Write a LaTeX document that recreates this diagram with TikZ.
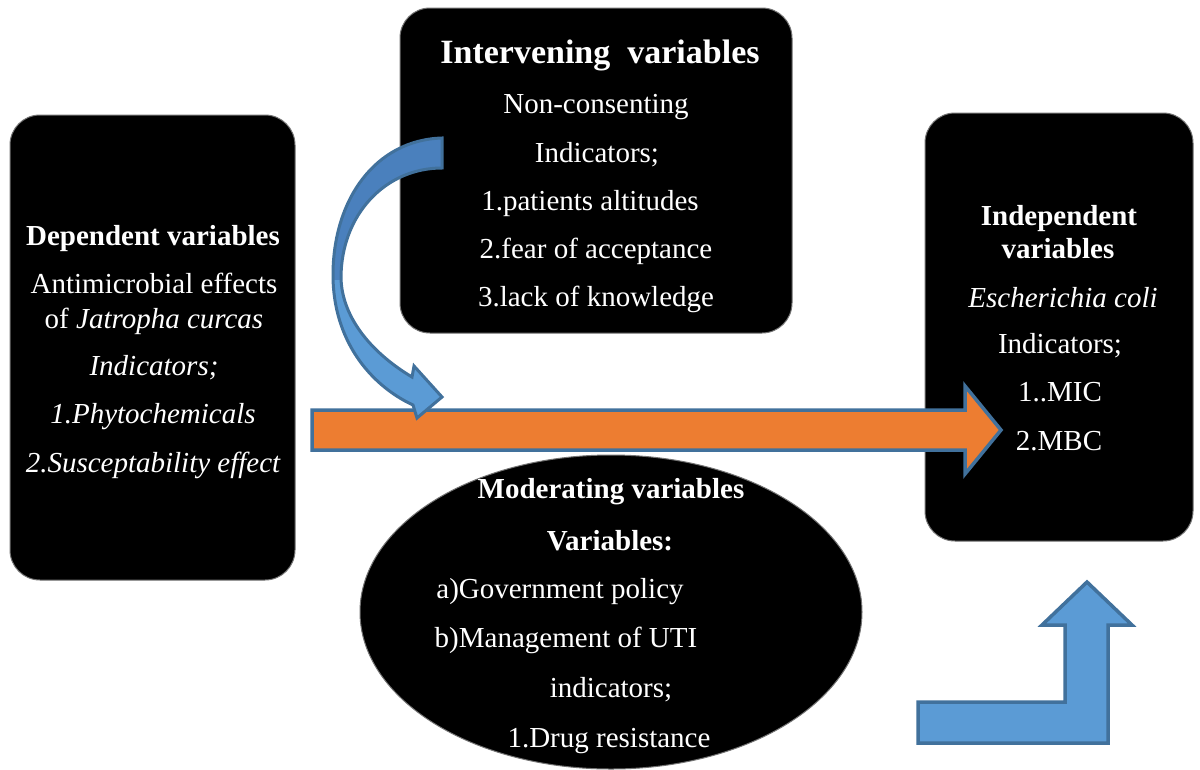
\documentclass[tikz,border=0pt]{standalone}
\usepackage{fontspec}
\setmainfont{Liberation Serif}
\usetikzlibrary{shapes.geometric}
\definecolor{arrowline}{HTML}{41719C}
\definecolor{orangefill}{HTML}{ED7D31}
\definecolor{bluefill}{HTML}{5B9BD5}
\definecolor{bluedark}{HTML}{4A80BD}
\begin{document}
\begin{tikzpicture}[x=1pt,y=-1pt,
  box/.style={rectangle, fill=black, draw=black!55, line width=1pt, rounded corners=30pt, inner sep=0pt},
  body/.style={text=white, font=\fontsize{29}{29}\selectfont, anchor=base, inner sep=0pt},
  bodyit/.style={body, font=\fontsize{29}{29}\selectfont\itshape},
  head/.style={body, font=\fontsize{29}{29}\selectfont\bfseries},
  bighead/.style={body, font=\fontsize{34}{34}\selectfont\bfseries},
  blockarrow/.style={draw=arrowline, line width=3.5pt, line join=miter}]
\useasboundingbox (0,0) rectangle (1200,769);
\fill[white] (0,0) rectangle (1200,769);

% boxes
\node[box, minimum width=285pt, minimum height=465pt] (dep) at (152.5,347.5) {};
\node[box, minimum width=392pt, minimum height=325pt] (int) at (596,170.5) {};
\node[box, minimum width=268pt, minimum height=428pt] (ind) at (1059,327) {};
\node[ellipse, fill=black, draw=black!55, line width=1pt, minimum width=502pt, minimum height=314pt, inner sep=0pt] (mod) at (611,612) {};

% main orange arrow
\draw[blockarrow, fill=orangefill] (312,410) -- (965,410) -- (965,386) -- (1001,430) -- (965,474) -- (965,450) -- (312,450) -- cycle;

% curved blue arrow
\fill[bluefill] (442,138) .. controls (375,140) and (333,200) .. (333,275)
  .. controls (333,340) and (370,385) .. (413,405) -- (417,418) -- (442,397) -- (414,366) -- (412,377)
  .. controls (375,355) and (342,320) .. (341,278)
  .. controls (341,215) and (385,168) .. (442,168) -- cycle;
\begin{scope}
\clip (300,100) rectangle (460,279);
\fill[bluedark] (442,138) .. controls (375,140) and (333,200) .. (333,275)
  .. controls (333,340) and (370,385) .. (413,405) -- (417,418) -- (442,397) -- (414,366) -- (412,377)
  .. controls (375,355) and (342,320) .. (341,278)
  .. controls (341,215) and (385,168) .. (442,168) -- cycle;
\end{scope}
\draw[draw=arrowline, line width=3pt, line join=miter] (442,138) .. controls (375,140) and (333,200) .. (333,275)
  .. controls (333,340) and (370,385) .. (413,405) -- (417,418) -- (442,397) -- (414,366) -- (412,377)
  .. controls (375,355) and (342,320) .. (341,278)
  .. controls (341,215) and (385,168) .. (442,168) -- cycle;

% bent-up arrow
\draw[blockarrow, fill=bluefill] (918,702) -- (1065,702) -- (1065,625) -- (1042,625) -- (1087,582) -- (1132,625) -- (1108,625) -- (1108,743) -- (918,743) -- cycle;

% texts: dependent
\node[head] (d1) at (153,245) {Dependent variables};
\node[body] (d2) at (154,293) {Antimicrobial effects};
\node[body] (d3) at (154,328) {of \textit{Jatropha curcas}};
\node[bodyit] (d4) at (154,375) {Indicators;};
\node[bodyit] (d5) at (153,423) {1.Phytochemicals};
\node[bodyit] (d6) at (153,472) {2.Susceptability effect};

% intervening
\node[bighead] (i1) at (600,63) {Intervening\ \ variables};
\node[body] (i2) at (596,113) {Non-consenting};
\node[body] (i3) at (597,162) {Indicators;};
\node[body] (i4) at (590,210) {1.patients altitudes};
\node[body] (i5) at (596,258) {2.fear of acceptance};
\node[body] (i6) at (596,306) {3.lack of knowledge};

% independent
\node[head] (n1) at (1059,225) {Independent};
\node[head] (n2) at (1058,258) {variables};
\node[bodyit] (n3) at (1063,307) {Escherichia coli};
\node[body] (n4) at (1060,353) {Indicators;};
\node[body] (n5) at (1060,401) {1..MIC};
\node[body] (n6) at (1059,450) {2.MBC};

% moderating
\node[head] (m1) at (611,498) {Moderating variables};
\node[head] (m2) at (610,550) {Variables:};
\node[body] (m3) at (560,598) {a)Government policy};
\node[body] (m4) at (566,647) {b)Management of UTI};
\node[body] (m5) at (611,697) {indicators;};
\node[body] (m6) at (609,747) {1.Drug resistance};
\end{tikzpicture}
\end{document}
